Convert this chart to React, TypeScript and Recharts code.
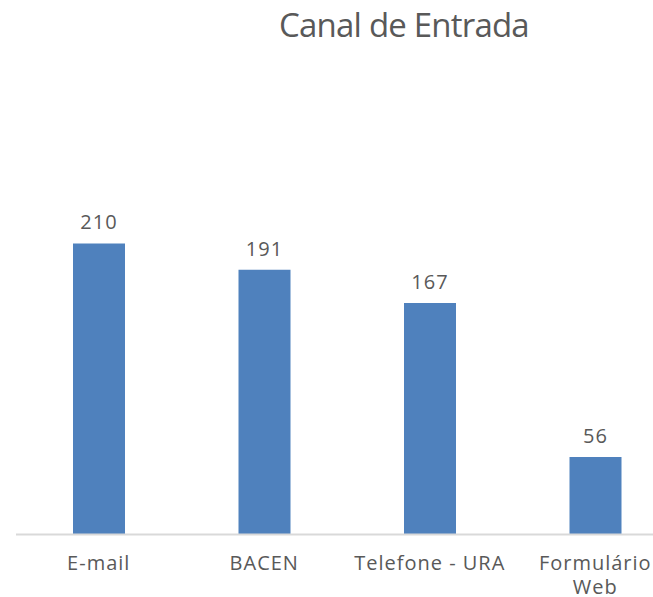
import React from "react";
import { BarChart, Bar, XAxis, YAxis, LabelList } from "recharts";

// canais (quebra de linha com \n)
const categories = ["E-mail", "BACEN", "Telefone - URA", "Formulário\nWeb"];
const values = [210, 191, 167, 56];

const data = categories.map((name, i) => ({ name, value: values[i] }));

const textColor = "#595959";
const font = "'Open Sans', sans-serif";

const CategoryTick = (props: any) => {
  const { x, y, payload } = props;
  const lines = String(payload.value).split("\n");
  return (
    <text
      x={x}
      y={y + 27}
      textAnchor="middle"
      fill={textColor}
      fontSize={20}
      letterSpacing={1}
      fontFamily={font}
    >
      {lines.map((l, i) => (
        <tspan key={i} x={x} dy={i === 0 ? 0 : 24}>
          {l}
        </tspan>
      ))}
    </text>
  );
};

const App: React.FC = () => {
  return (
    <div
      style={{
        position: "absolute",
        left: 0,
        top: 0,
        width: 653,
        height: 597,
        overflow: "hidden",
        background: "#fff",
      }}
    >
      {/* Título */}
      <div
        style={{
          position: "absolute",
          left: 0,
          width: 808,
          top: 2,
          textAlign: "center",
          fontFamily: font,
          fontSize: 33,
          color: textColor,
          letterSpacing: -0.8,
        }}
      >
        Canal de Entrada
      </div>

      <BarChart
        width={690}
        height={597}
        data={data}
        margin={{ top: 188, right: 12, bottom: 2.5, left: 16 }}
      >
        <YAxis hide domain={[0, 250]} />
        <XAxis
          dataKey="name"
          height={60}
          interval={0}
          tickLine={false}
          axisLine={{ stroke: "#D9D9D9", strokeWidth: 2 }}
          tick={<CategoryTick />}
        />
        <Bar dataKey="value" fill="#4F81BD" barSize={52} isAnimationActive={false}>
          <LabelList
            dataKey="value"
            position="top"
            offset={14}
            fill={textColor}
            fontSize={20}
            letterSpacing={1}
            fontFamily={font}
          />
        </Bar>
      </BarChart>
    </div>
  );
};

export default App;
